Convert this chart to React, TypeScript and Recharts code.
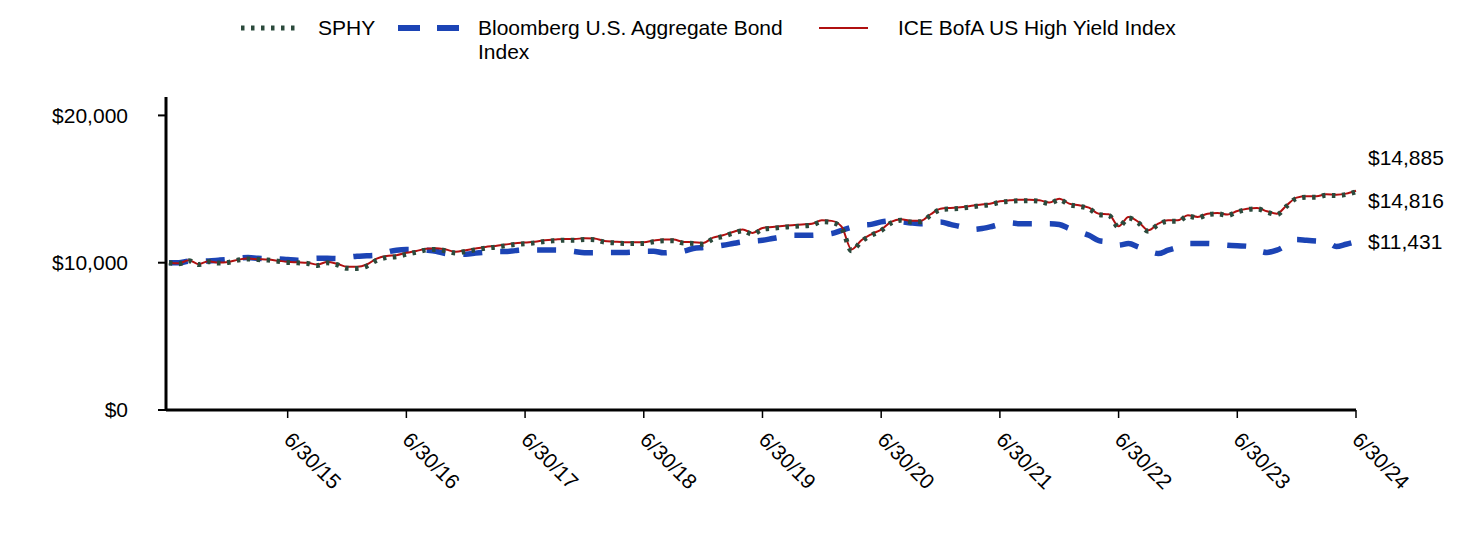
import { LineChart, Line, XAxis, YAxis, LabelList } from 'recharts'

// monthly growth of $10,000, 6/30/14 .. 6/30/24 (121 points)
const sphy = [
  10000, 9930, 10140, 9870, 10070, 9980, 10020, 10180, 10250, 10210, 10180, 10100,
  10020, 9990, 9950, 9810, 9990, 9860, 9620, 9610, 9770, 10160, 10350, 10410,
  10570, 10710, 10860, 10900, 10810, 10660, 10770, 10880, 10990, 11060, 11150, 11240,
  11290, 11350, 11440, 11490, 11530, 11530, 11580, 11560, 11400, 11350, 11310, 11310,
  11310, 11420, 11490, 11490, 11330, 11310, 11260, 11620, 11780, 12000, 12160, 11930,
  12270, 12340, 12400, 12450, 12500, 12560, 12780, 12740, 12350, 10820, 11450, 11860,
  12180, 12700, 12880, 12770, 12780, 13220, 13600, 13650, 13690, 13780, 13870, 13940,
  14100, 14170, 14210, 14210, 14170, 14010, 14280, 13940, 13830, 13670, 13260, 13220,
  12410, 13040, 12700, 12140, 12590, 12820, 12820, 13160, 13050, 13270, 13320, 13210,
  13450, 13610, 13660, 13430, 13270, 13840, 14360, 14450, 14450, 14580, 14560, 14630,
  14816,
]

const aggBond = [
  10000, 9990, 10100, 10110, 10120, 10170, 10230, 10310, 10350, 10300, 10280, 10260,
  10210, 10170, 10230, 10300, 10300, 10280, 10360, 10440, 10470, 10510, 10710, 10850,
  10890, 10890, 10850, 10780, 10620, 10580, 10580, 10650, 10720, 10760, 10760, 10820,
  10870, 10870, 10870, 10860, 10850, 10760, 10670, 10670, 10690, 10690, 10690, 10720,
  10780, 10780, 10670, 10720, 10780, 10960, 11030, 11100, 11190, 11300, 11410, 11460,
  11520, 11640, 11760, 11860, 11860, 11860, 11920, 11980, 12200, 12400, 12540, 12600,
  12770, 12840, 12780, 12700, 12650, 12700, 12770, 12600, 12450, 12250, 12300, 12430,
  12600, 12700, 12650, 12650, 12650, 12650, 12600, 12320, 12100, 11860, 11500, 11410,
  11190, 11300, 11070, 10800, 10620, 10850, 11050, 11300, 11300, 11300, 11250, 11190,
  11150, 11120, 10850, 10700, 10850, 11200, 11570, 11520, 11480, 11430, 11100, 11250,
  11431,
]

const iceHy = [
  10000, 9960, 10170, 9900, 10100, 10010, 10050, 10210, 10280, 10240, 10210, 10140,
  10060, 10030, 10000, 9870, 10050, 9930, 9720, 9720, 9880, 10280, 10460, 10510,
  10670, 10800, 10940, 10980, 10890, 10740, 10850, 10960, 11070, 11140, 11230, 11320,
  11370, 11430, 11520, 11570, 11610, 11610, 11660, 11640, 11480, 11430, 11390, 11390,
  11390, 11500, 11570, 11570, 11410, 11390, 11340, 11700, 11860, 12090, 12250, 12020,
  12360, 12430, 12490, 12540, 12590, 12650, 12880, 12840, 12450, 10900, 11520, 11930,
  12250, 12770, 12950, 12840, 12840, 13290, 13670, 13720, 13760, 13850, 13940, 14010,
  14170, 14240, 14280, 14280, 14240, 14080, 14350, 14010, 13900, 13740, 13330, 13290,
  12470, 13110, 12770, 12200, 12650, 12880, 12880, 13220, 13110, 13330, 13380, 13270,
  13510, 13670, 13720, 13490, 13330, 13900, 14420, 14510, 14510, 14640, 14620, 14690,
  14885,
]

const xTicks = [12, 24, 36, 48, 60, 72, 84, 96, 108, 120]
const xTickLabels = ['6/30/15', '6/30/16', '6/30/17', '6/30/18', '6/30/19', '6/30/20', '6/30/21', '6/30/22', '6/30/23', '6/30/24']
const yTicks = [0, 10000, 20000]

const FONT = '"Liberation Sans", Arial, sans-serif'
const GREEN = '#2B4A3C'
const BLUE = '#1C44B5'
const RED = '#B01010'

const data = iceHy.map((v, i) => ({ m: i, sphy: sphy[i], agg: aggBond[i], ice: v }))
const last = data.length - 1

const money = (v: number) => `$${v.toLocaleString('en-US')}`

const XTick = ({ x, y, payload }: any) => {
  const idx = xTicks.indexOf(payload.value)
  return (
    <g transform={`translate(${x - 5},${y + 21})`}>
      <text transform="rotate(45)" textAnchor="start" fontSize={21} fill="#000" fontFamily={FONT}>
        {xTickLabels[idx]}
      </text>
    </g>
  )
}

// end-of-line value labels; offsets keep the two near-identical values apart
const endLabel = (dy: number) => (props: any) => {
  if (props.index !== last) return null
  return (
    <text x={props.x + 12} y={props.y + dy} dominantBaseline="central" fontSize={21} fill="#000" fontFamily={FONT}>
      {money(props.value)}
    </text>
  )
}

function ChartLegend() {
  return (
    <svg width={1476} height={70} style={{ position: 'absolute', left: 0, top: 0 }} fontFamily={FONT} fontSize={21}>
      <line x1={241} x2={296} y1={28} y2={28} stroke={GREEN} strokeWidth={5} strokeDasharray="3.5 6.5" />
      <text x={318} y={35}>SPHY</text>
      <line x1={398} x2={460} y1={28} y2={28} stroke={BLUE} strokeWidth={6} strokeDasharray="22 17" />
      <text x={478} y={35}>Bloomberg U.S. Aggregate Bond</text>
      <text x={478} y={59}>Index</text>
      <line x1={819} x2={868} y1={28} y2={28} stroke={RED} strokeWidth={2} />
      <text x={898} y={35}>ICE BofA US High Yield Index</text>
    </svg>
  )
}

export default function App() {
  return (
    <div style={{ position: 'absolute', left: 0, top: 0, width: 1476, height: 552, background: '#fff', fontFamily: FONT }}>
      <ChartLegend />
      <LineChart width={1476} height={552} data={data} margin={{ top: 97, right: 120, bottom: 42, left: 86 }}>
        <XAxis
          dataKey="m"
          type="number"
          domain={[-0.3, 120]}
          ticks={xTicks}
          tick={<XTick />}
          height={100}
          axisLine={{ stroke: '#000', strokeWidth: 3 }}
          tickLine={{ stroke: '#000', strokeWidth: 1.5 }}
          tickSize={8}
          interval={0}
        />
        <YAxis
          domain={[0, 21250]}
          ticks={yTicks}
          tickFormatter={money}
          width={80}
          tick={{ fontSize: 21, fill: '#000', fontFamily: FONT }}
          axisLine={{ stroke: '#000', strokeWidth: 3 }}
          tickLine={{ stroke: '#000', strokeWidth: 2 }}
          tickSize={8}
          tickMargin={30}
          allowDataOverflow
        />
        <Line dataKey="agg" type="monotone" stroke={BLUE} strokeWidth={5.5} strokeDasharray="19 18" dot={false} isAnimationActive={false}>
          <LabelList dataKey="agg" content={endLabel(0)} />
        </Line>
        <Line dataKey="ice" type="monotone" stroke={RED} strokeWidth={2} dot={false} isAnimationActive={false}>
          <LabelList dataKey="ice" content={endLabel(-33)} />
        </Line>
        <Line dataKey="sphy" type="monotone" stroke={GREEN} strokeWidth={5} strokeDasharray="3.5 6.5" dot={false} isAnimationActive={false}>
          <LabelList dataKey="sphy" content={endLabel(9)} />
        </Line>
      </LineChart>
    </div>
  )
}
